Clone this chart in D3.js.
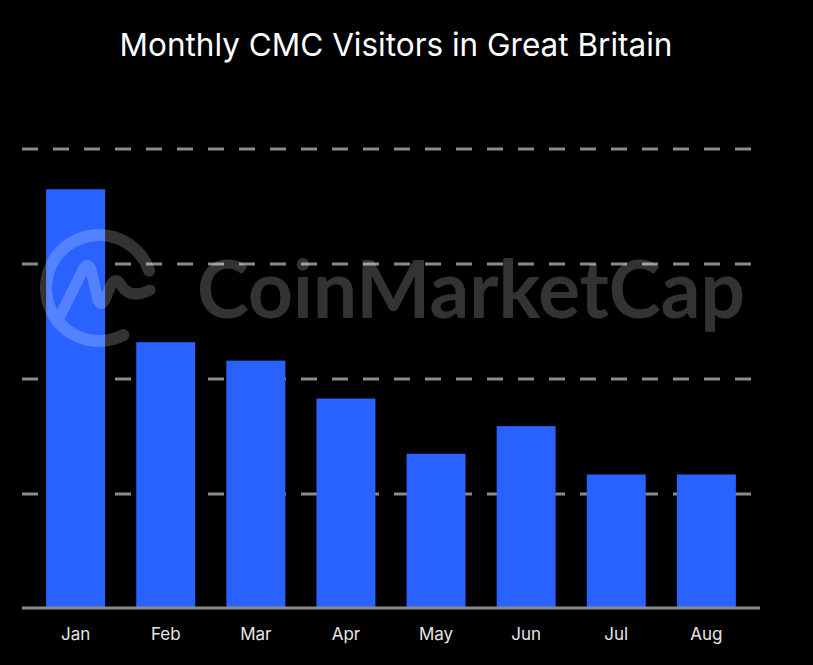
<!DOCTYPE html>
<html><head><meta charset="utf-8">
<script src="https://cdn.jsdelivr.net/npm/d3@7"></script>
<style>html,body{margin:0;padding:0;background:#000;}svg{display:block;}</style>
</head><body>
<script>
const months = ["Jan","Feb","Mar","Apr","May","Jun","Jul","Aug"];
const visitors = [3.65, 2.32, 2.16, 1.83, 1.35, 1.59, 1.17, 1.17];
const gridTicks = [1, 2, 3, 4];
const title = "Monthly CMC Visitors in Great Britain";

const W = 813, H = 665;
const svg = d3.select("body").append("svg").attr("width", W).attr("height", H)
  .style("background", "#000");

const x = d3.scaleBand().domain(months).range([15, 767]).paddingInner(0.3455).paddingOuter(0.3455);
const y = d3.scaleLinear().domain([0, 4]).range([609, 149]);

// gridlines
svg.append("g").selectAll("line").data(gridTicks).join("line")
  .attr("x1", 22).attr("x2", 760)
  .attr("y1", d => y(d)).attr("y2", d => y(d))
  .attr("stroke", "#8a8a8a").attr("stroke-width", 3)
  .attr("stroke-dasharray", "16 15");

// bars
svg.append("g").selectAll("rect").data(months).join("rect")
  .attr("x", d => x(d)).attr("width", x.bandwidth())
  .attr("y", (d, i) => y(visitors[i]))
  .attr("height", (d, i) => y(0) - 1 - y(visitors[i]))
  .attr("fill", "#2962ff");

// baseline
svg.append("line").attr("x1", 22).attr("x2", 760)
  .attr("y1", y(0) - 1).attr("y2", y(0) - 1)
  .attr("stroke", "#8a8a8a").attr("stroke-width", 3);

// x axis labels
const xAxis = d3.axisBottom(x).tickSize(0).tickPadding(0);
const gx = svg.append("g").attr("transform", `translate(0,${y(0)})`).call(xAxis);
gx.select(".domain").remove();
gx.selectAll("text").attr("y", 31).attr("dy", "0")
  .attr("fill", "#e6e6e6").attr("font-family", "Inter, 'Noto Sans', sans-serif")
  .attr("font-size", 17);

// title
svg.append("text").attr("x", 396).attr("y", 56).attr("text-anchor", "middle")
  .attr("fill", "#fff").attr("font-family", "Inter, 'Noto Sans', sans-serif")
  .attr("font-size", 31.5).text(title);

// watermark
const wm = svg.append("g").attr("opacity", 0.2);
const arc = d3.arc().innerRadius(47).outerRadius(59)
  .startAngle(2.55).endAngle(2.55 + 2 * Math.PI - 1.2).cornerRadius(6);
wm.append("path").attr("transform", "translate(99,288)").attr("d", arc())
  .attr("fill", "#fff");
wm.append("path")
  .attr("d", "M58,320 L84,268 Q88,262 91,270 L98,300 Q101,307 105,300 L111,285 Q116,276 121,285 Q130,300 150,290")
  .attr("fill", "none").attr("stroke", "#fff").attr("stroke-width", 11)
  .attr("stroke-linecap", "round").attr("stroke-linejoin", "round");
wm.append("text").attr("x", 197).attr("y", 318)
  .attr("fill", "#fff").attr("font-family", "Lato, Inter, sans-serif")
  .attr("font-weight", 700).attr("font-size", 80)
  .attr("textLength", 548).attr("lengthAdjust", "spacingAndGlyphs")
  .text("CoinMarketCap");
</script>
</body></html>
